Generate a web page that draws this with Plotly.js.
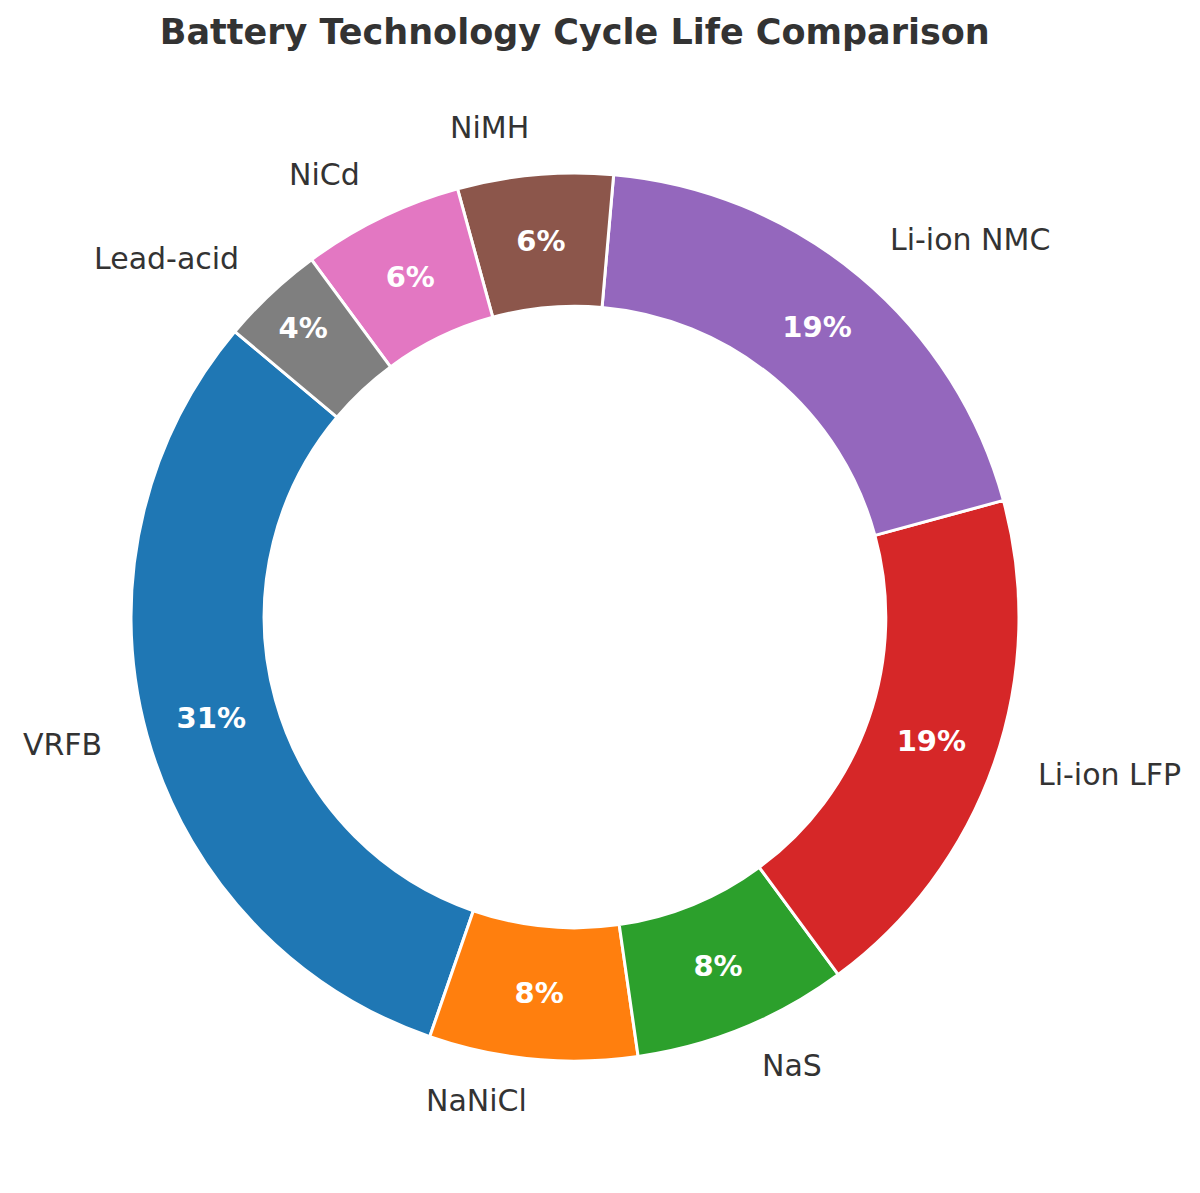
<!DOCTYPE html>
<html>
<head>
<meta charset="utf-8">
<script src="https://cdn.plot.ly/plotly-3.0.1.min.js"></script>
<style>
  html, body { margin: 0; padding: 0; background: #fff; }
  #chart { width: 1200px; height: 1193px; }
</style>
</head>
<body>
<div id="chart"></div>
<script>
// cycle life estimates (cycles), in drawing order
const technologies = ['VRFB', 'NaNiCl', 'NaS', 'Li-ion LFP', 'Li-ion NMC', 'NiMH', 'NiCd', 'Lead-acid'];
const cycleLife = [12000, 2950, 3050, 7450, 7550, 2200, 2280, 1470];
const sliceColors = ['#1f77b4', '#ff7f0e', '#2ca02c', '#d62728', '#9467bd', '#8c564b', '#e377c2', '#7f7f7f'];

const startAngle = 140; // degrees, counterclockwise from 3 o'clock
const labelDistance = 1.1;

const total = cycleLife.reduce((a, b) => a + b, 0);

// outer labels, placed like matplotlib's labeldistance
let cum = 0;
const labelAnnotations = technologies.map((name, i) => {
  const mid = startAngle + 360 * (cum + cycleLife[i] / 2) / total;
  cum += cycleLife[i];
  const rad = mid * Math.PI / 180;
  const cx = Math.cos(rad), cy = Math.sin(rad);
  return {
    xref: 'paper', yref: 'paper',
    x: 0.5 + 0.5 * labelDistance * cx,
    y: 0.5 + 0.5 * labelDistance * cy,
    xanchor: cx > 0 ? 'left' : 'right',
    yanchor: 'middle',
    yshift: 3,
    text: name,
    showarrow: false,
    font: { family: 'DejaVu Sans', size: 30, color: '#333333' }
  };
});

// plotly's counterclockwise pies end the first slice at `rotation`,
// so shift by the first slice to make it start at startAngle
const rotation = -(startAngle - 90) - 360 * cycleLife[0] / total;

const plotData = [{
  type: 'pie',
  labels: technologies,
  values: cycleLife,
  sort: false,
  direction: 'counterclockwise',
  rotation: rotation,
  hole: 0.7,
  marker: { colors: sliceColors, line: { color: '#ffffff', width: 3 } },
  texttemplate: '%{percent:.0%}',
  textposition: 'inside',
  insidetextorientation: 'horizontal',
  textfont: { family: 'DejaVu Sans', size: 29, color: '#ffffff', weight: 'bold' },
  showlegend: false,
  hoverinfo: 'label+value+percent'
}];

const layout = {
  width: 1200,
  height: 1193,
  margin: { l: 131, r: 181, t: 173, b: 132 },
  paper_bgcolor: '#ffffff',
  title: {
    text: '<b>Battery Technology Cycle Life Comparison</b>',
    font: { family: 'DejaVu Sans', size: 35, color: '#333333' },
    x: 0.479, xanchor: 'center',
    y: 0.973, yanchor: 'middle'
  },
  annotations: labelAnnotations,
  showlegend: false
};

Plotly.newPlot('chart', plotData, layout, { displayModeBar: false });
</script>
</body>
</html>
